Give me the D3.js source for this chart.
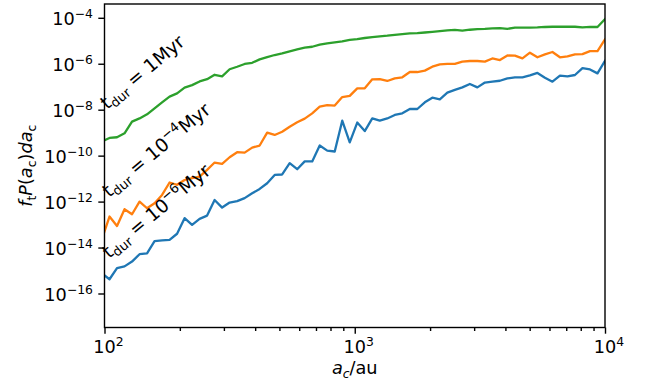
<!DOCTYPE html>
<html>
<head>
<meta charset="utf-8">
<script src="https://cdn.jsdelivr.net/npm/d3@7"></script>
<style>
  html, body { margin: 0; padding: 0; background: #fff; }
  svg { display: block; font-family: "DejaVu Sans", sans-serif; }
</style>
</head>
<body>
<svg id="chart" width="645" height="383"></svg>
<script>
// Companion separation a_c (au), log-spaced bins
const aC = [97.72, 104.71, 112.20, 120.23, 128.82, 138.04, 147.91, 158.49, 169.82, 181.97,
  194.98, 208.93, 223.87, 239.88, 257.04, 275.42, 295.12, 316.23, 338.84, 363.08,
  389.05, 416.87, 446.68, 478.63, 512.86, 549.54, 588.84, 630.96, 676.08, 724.44,
  776.25, 831.76, 891.25, 954.99, 1023.3, 1096.5, 1174.9, 1258.9, 1349.0, 1445.4,
  1548.8, 1659.6, 1778.3, 1905.5, 2041.7, 2187.8, 2344.2, 2511.9, 2691.5, 2884.0,
  3090.3, 3311.3, 3548.1, 3801.9, 4073.8, 4365.2, 4677.4, 5011.9, 5370.3, 5754.4,
  6166.0, 6606.9, 7079.5, 7585.8, 8128.3, 8709.6, 9332.5, 10000];

// log10 of f_t P(a_c) da_c for each event duration
const logF_1e6 = [-15.13, -15.38, -14.90, -14.82, -14.61, -14.29, -14.25, -13.72, -13.69, -13.67,
  -13.40, -12.72, -13.01, -12.75, -12.61, -11.93, -12.26, -12.04, -11.98, -11.85,
  -11.64, -11.45, -11.20, -10.84, -10.82, -10.33, -10.59, -10.25, -10.25, -9.56,
  -9.78, -9.82, -8.48, -9.42, -8.56, -8.93, -8.38, -8.48, -8.38, -8.23,
  -8.16, -7.97, -7.97, -7.68, -7.48, -7.55, -7.26, -7.14, -7.03, -6.88,
  -7.03, -6.82, -6.78, -6.74, -6.64, -6.59, -6.59, -6.51, -6.40, -6.61,
  -6.78, -6.52, -6.55, -6.49, -6.19, -6.25, -6.42, -5.87];

const logF_1e4 = [-13.62, -12.65, -13.06, -12.33, -12.55, -12.00, -12.29, -12.07, -11.71, -11.17,
  -11.27, -11.06, -10.98, -10.91, -10.62, -10.30, -10.36, -10.07, -9.85, -9.87,
  -9.65, -9.56, -9.00, -9.10, -8.96, -8.74, -8.55, -8.39, -8.16, -7.87,
  -7.80, -7.82, -7.45, -7.40, -7.07, -7.07, -6.68, -6.67, -6.75, -6.64,
  -6.59, -6.36, -6.36, -6.30, -6.13, -6.03, -6.01, -6.01, -5.91, -5.88,
  -5.88, -5.91, -5.77, -5.84, -5.64, -5.65, -5.77, -5.52, -5.72, -5.59,
  -5.49, -5.72, -5.68, -5.59, -5.58, -5.45, -5.45, -4.94];

const logF_1 = [-9.38, -9.23, -9.20, -9.03, -8.52, -8.38, -8.20, -7.94, -7.68, -7.43,
  -7.29, -7.04, -6.93, -6.77, -6.67, -6.48, -6.55, -6.24, -6.13, -6.01,
  -5.96, -5.81, -5.71, -5.62, -5.55, -5.46, -5.38, -5.30, -5.26, -5.17,
  -5.11, -5.07, -5.03, -4.96, -4.93, -4.88, -4.84, -4.81, -4.78, -4.74,
  -4.71, -4.68, -4.67, -4.64, -4.61, -4.58, -4.55, -4.53, -4.56, -4.52,
  -4.49, -4.48, -4.46, -4.45, -4.48, -4.43, -4.43, -4.43, -4.42, -4.40,
  -4.39, -4.39, -4.39, -4.39, -4.42, -4.40, -4.40, -4.06];

// Axis ticks
const xMajorTicks = [1e2, 1e3, 1e4];
const xMajorExp = ["2", "3", "4"];
const yMajorTicks = [1e-4, 1e-6, 1e-8, 1e-10, 1e-12, 1e-14, 1e-16];
const yMajorExp = ["\u22124", "\u22126", "\u22128", "\u221210", "\u221212", "\u221214", "\u221216"];

// Series and their annotation labels
const seriesLogs = [logF_1e6, logF_1e4, logF_1];
const seriesColors = ["#1f77b4", "#ff7f0e", "#2ca02c"];
const seriesExp = ["\u22126", "\u22124", null];

const svg = d3.select("#chart");
const L = 104.5, R = 605, T = 4, B = 327.5;
const FS = 17.7;          // base font size
const TICK = 6.2, MINOR = 3.5, LW = 1.4;

const x = d3.scaleLog().domain([1e2, 1e4]).range([L, R]);
const y = d3.scaleLog().domain([Math.pow(10, -17.48), Math.pow(10, -3.40)]).range([B, T]);

// Writes mathtext-like runs (base / sub / sup) into a text element
function mtext(t, parts, size) {
  let cur = 0;
  parts.forEach(p => {
    const pos = p.pos || "base";
    const target = pos === "sub" ? size * 0.2 : pos === "sup" ? -size * 0.42 : 0;
    t.append("tspan")
      .attr("dy", (target - cur).toFixed(2))
      .style("font-size", (pos === "base" ? size : size * 0.7) + "px")
      .style("font-style", p.it ? "italic" : "normal")
      .text(p.t);
    cur = target;
  });
}

svg.append("defs").append("clipPath").attr("id", "plotclip")
  .append("rect").attr("x", L).attr("y", T).attr("width", R - L).attr("height", B - T);

// Lines
const line = d3.line().x((d, i) => x(aC[i])).y(d => y(Math.pow(10, d)));
const lines = svg.append("g").attr("clip-path", "url(#plotclip)");
seriesLogs.forEach((s, k) => {
  lines.append("path").datum(s)
    .attr("d", line)
    .attr("fill", "none")
    .attr("stroke", seriesColors[k])
    .attr("stroke-width", 2.3)
    .attr("stroke-linejoin", "round")
    .attr("stroke-linecap", "square");
});

// Axes
const xMinor = [];
[100, 1000].forEach(b => { for (let m = 2; m <= 9; m++) xMinor.push(b * m); });
svg.append("g").attr("transform", `translate(0,${B})`)
  .call(d3.axisBottom(x).tickValues(xMajorTicks).tickSize(TICK).tickFormat(""));
svg.append("g").attr("transform", `translate(0,${B})`)
  .call(d3.axisBottom(x).tickValues(xMinor).tickSize(MINOR).tickFormat(""));
svg.append("g").attr("transform", `translate(${L},0)`)
  .call(d3.axisLeft(y).tickValues(yMajorTicks).tickSize(TICK).tickFormat(""));
svg.selectAll(".domain").remove();
svg.selectAll(".tick line").attr("stroke", "#000").attr("stroke-width", LW);

// Frame
svg.append("rect").attr("x", L).attr("y", T).attr("width", R - L).attr("height", B - T)
  .attr("fill", "none").attr("stroke", "#000").attr("stroke-width", LW);

// Tick labels
xMajorTicks.forEach((v, i) => {
  const t = svg.append("text").attr("x", x(v) + 4).attr("y", B + 25.5)
    .attr("text-anchor", "middle").attr("fill", "#000");
  mtext(t, [{ t: "10" }, { t: xMajorExp[i], pos: "sup" }], FS);
});
yMajorTicks.forEach((v, i) => {
  const t = svg.append("text").attr("x", L - 11.5).attr("y", y(v) + 7.5)
    .attr("text-anchor", "end").attr("fill", "#000");
  mtext(t, [{ t: "10" }, { t: yMajorExp[i], pos: "sup" }], FS);
});

// Axis labels
const xl = svg.append("text").attr("x", (L + R) / 2).attr("y", 374)
  .attr("text-anchor", "middle").attr("fill", "#000");
mtext(xl, [{ t: "a", it: true }, { t: "c", it: true, pos: "sub" }, { t: "/au" }], FS);

const yl = svg.append("text").attr("transform", `translate(32,${(T + B) / 2}) rotate(-90)`)
  .attr("text-anchor", "middle").attr("fill", "#000");
mtext(yl, [{ t: "f", it: true }, { t: "t", pos: "sub" }, { t: "P", it: true }, { t: "(" },
  { t: "a", it: true }, { t: "c", pos: "sub" }, { t: ")" }, { t: "da", it: true }, { t: "c", pos: "sub" }], FS);

// Duration annotations
const annPos = [[109, 259], [109, 198], [107, 110]];
const AFS = 18.6;
seriesLogs.forEach((s, k) => {
  const t = svg.append("text")
    .attr("transform", `translate(${annPos[k][0]},${annPos[k][1]}) rotate(-40)`)
    .attr("fill", "#000");
  const parts = [{ t: "t" }, { t: "dur", pos: "sub" }, { t: " = " }];
  if (seriesExp[k]) parts.push({ t: "10" }, { t: seriesExp[k], pos: "sup" }, { t: "Myr" });
  else parts.push({ t: "1Myr" });
  mtext(t, parts, AFS);
});
</script>
</body>
</html>
